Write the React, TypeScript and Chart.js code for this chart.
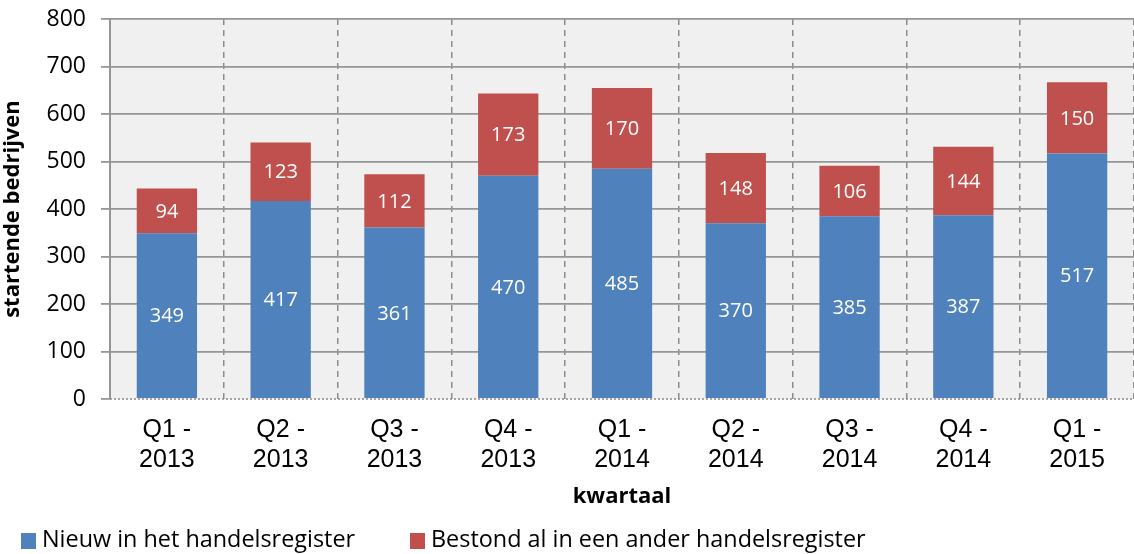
import React, { useEffect, useRef } from "react";
import { Chart, registerables } from "chart.js";

Chart.register(...registerables);

const categories: string[][] = [
  ["Q1 -", "2013"], ["Q2 -", "2013"], ["Q3 -", "2013"], ["Q4 -", "2013"],
  ["Q1 -", "2014"], ["Q2 -", "2014"], ["Q3 -", "2014"], ["Q4 -", "2014"],
  ["Q1 -", "2015"],
];
const nieuwValues = [349, 417, 361, 470, 485, 370, 385, 387, 517];
const bestondValues = [94, 123, 112, 173, 170, 148, 106, 144, 150];
const seriesNames = ["Nieuw in het handelsregister", "Bestond al in een ander handelsregister"];
const seriesColors = ["#4F81BD", "#C0504D"];
const yTicks = [0, 100, 200, 300, 400, 500, 600, 700, 800];

const plotBg = {
  id: "plotBg",
  beforeDraw(chart: any) {
    const { ctx, chartArea } = chart;
    ctx.save();
    ctx.fillStyle = "#F0F0F0";
    ctx.fillRect(chartArea.left, chartArea.top, chartArea.right - chartArea.left, chartArea.bottom - chartArea.top);
    ctx.restore();
  },
};

const dataLabels = {
  id: "dataLabels",
  afterDatasetsDraw(chart: any) {
    const { ctx, chartArea } = chart;
    ctx.save();
    // dotted baseline
    ctx.strokeStyle = "#8C8C8C";
    ctx.lineWidth = 1.5;
    ctx.setLineDash([2, 2]);
    ctx.beginPath();
    ctx.moveTo(chartArea.left, chartArea.bottom);
    ctx.lineTo(chartArea.right, chartArea.bottom);
    ctx.stroke();
    ctx.setLineDash([]);
    ctx.fillStyle = "#FFFFFF";
    ctx.font = "20px 'Open Sans', sans-serif";
    ctx.textAlign = "center";
    ctx.textBaseline = "middle";
    chart.data.datasets.forEach((ds: any, di: number) => {
      const meta = chart.getDatasetMeta(di);
      meta.data.forEach((el: any, i: number) => {
        const y = (el.y + el.base) / 2;
        ctx.fillText(String(ds.data[i]), el.x, y + 1);
      });
    });
    ctx.restore();
  },
};

const customLegend = {
  id: "customLegend",
  afterDraw(chart: any) {
    const { ctx } = chart;
    const items = [
      { x: 21, label: seriesNames[0], color: seriesColors[0] },
      { x: 410, label: seriesNames[1], color: seriesColors[1] },
    ];
    ctx.save();
    ctx.font = "23.4px 'Open Sans', sans-serif";
    ctx.textBaseline = "middle";
    ctx.textAlign = "left";
    items.forEach((it) => {
      ctx.fillStyle = it.color;
      ctx.fillRect(it.x, 533, 15, 16);
      ctx.fillStyle = "#000000";
      ctx.fillText(it.label, it.x + 21, 540);
    });
    ctx.restore();
  },
};

export default function App() {
  const ref = useRef<HTMLCanvasElement>(null);
  useEffect(() => {
    if (!ref.current) return;
    const chart = new Chart(ref.current, {
      type: "bar",
      data: {
        labels: categories as any,
        datasets: [
          {
            label: seriesNames[0],
            data: nieuwValues,
            backgroundColor: seriesColors[0],
            barPercentage: 0.53,
            categoryPercentage: 1,
          },
          {
            label: seriesNames[1],
            data: bestondValues,
            backgroundColor: seriesColors[1],
            barPercentage: 0.53,
            categoryPercentage: 1,
          },
        ],
      },
      options: {
        animation: false,
        responsive: true,
        maintainAspectRatio: false,
        layout: { padding: { top: 19, right: -3, bottom: 40, left: 0 } },
        plugins: {
          legend: { display: false },
          tooltip: { enabled: false },
        },
        scales: {
          x: {
            stacked: true,
            offset: true,
            afterFit: (s: any) => { s.height = 115; s.paddingLeft = 0; s.paddingRight = 0; },
            grid: {
              display: true,
              offset: true,
              color: "#8C8C8C",
              lineWidth: 1.5,
              drawTicks: false,
            },
            border: { display: false, dash: [6, 5] },
            ticks: {
              color: "#000000",
              font: { family: "'Liberation Sans', Arial, sans-serif", size: 25, lineHeight: 1.2 },
              padding: 16,
              maxRotation: 0,
              autoSkip: false,
            },
            title: {
              display: true,
              text: "kwartaal",
              color: "#000000",
              font: { family: "'Open Sans', sans-serif", size: 22, weight: "bold" },
              padding: { top: 0, bottom: 4 },
            },
          },
          y: {
            stacked: true,
            min: 0,
            max: 800,
            afterFit: (s: any) => { s.width = 110; s.paddingTop = 0; s.paddingBottom = 0; },
            afterBuildTicks: (s: any) => { s.ticks = yTicks.map((v) => ({ value: v })); },
            grid: {
              color: (c: any) => (c.tick && c.tick.value === 0 ? "rgba(0,0,0,0)" : "#969696"),
              tickColor: "#969696",
              lineWidth: 1.8,
              tickLength: 9,
            },
            border: { display: true, color: "#969696", width: 2 },
            ticks: {
              color: "#000000",
              font: { family: "'Open Sans', sans-serif", size: 23 },
              padding: 15,
            },
            title: {
              display: true,
              text: "startende bedrijven",
              color: "#000000",
              font: { family: "'Open Sans', sans-serif", size: 22, weight: "bold" },
              padding: { top: 0, bottom: 0 },
            },
          },
        },
      },
      plugins: [plotBg, dataLabels, customLegend],
    });
    return () => chart.destroy();
  }, []);
  return (
    <div style={{ position: "fixed", left: 0, top: 0, width: 1134, height: 554 }}>
      <canvas ref={ref} />
    </div>
  );
}
